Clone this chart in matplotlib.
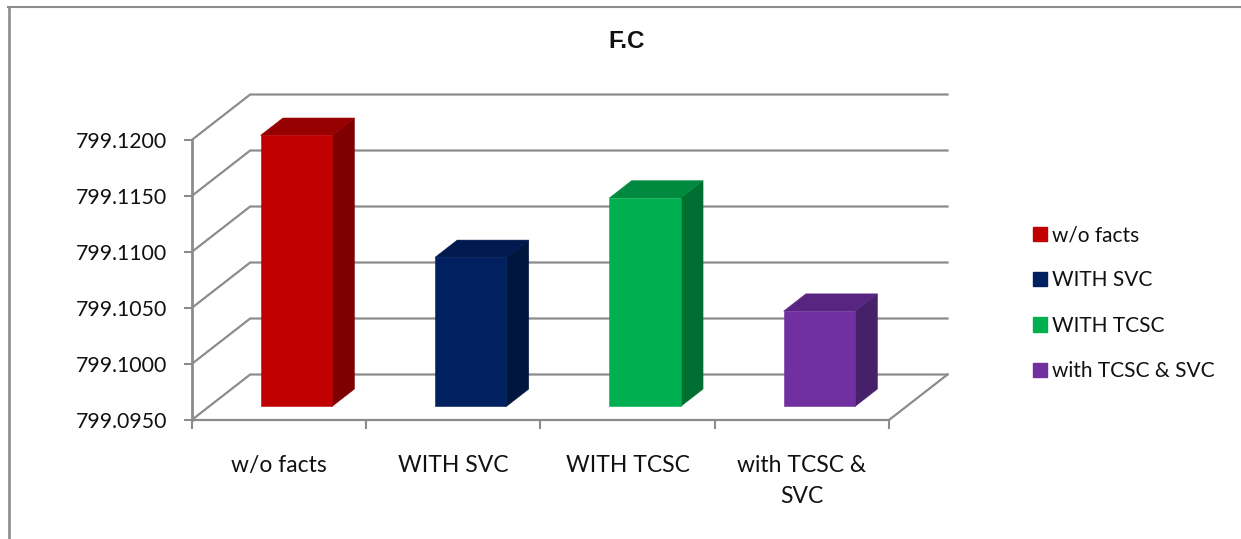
import matplotlib
matplotlib.use("Agg")
import matplotlib.pyplot as plt
from matplotlib.lines import Line2D
from matplotlib.patches import Patch, Polygon

plt.rcParams["font.family"] = ["Lato", "DejaVu Sans"]

categories = ["w/o facts", "WITH SVC", "WITH TCSC", "with TCSC &\nSVC"]
legend_labels = ["w/o facts", "WITH SVC", "WITH TCSC", "with TCSC & SVC"]
values = [799.1192, 799.1083, 799.1136, 799.1035]
y_ticks = [799.095, 799.100, 799.105, 799.110, 799.115, 799.120]

front_colors = ["#C00000", "#002060", "#00B050", "#7030A0"]
top_colors = ["#960000", "#001A4F", "#008A3F", "#582680"]
side_colors = ["#7F0000", "#00163F", "#006F32", "#47206A"]

GRID = "#8C8C8C"
WIDTH, HEIGHT = 1241, 539

# front plane of the box, in pixels
LEFT, RIGHT, FLOOR, TOP = 191.7, 889.0, 420.0, 140.0
# shift of the back wall relative to the front plane, in pixels
DEPTH_X, DEPTH_Y = 58.5, 45.5
BAR_WIDTH = 0.41
BAR_START, BAR_DEPTH = 0.30, 0.38

fig = plt.figure(figsize=(WIDTH / 100, HEIGHT / 100), dpi=100)
ax = fig.add_axes([LEFT / WIDTH, 1 - FLOOR / HEIGHT,
                   (RIGHT - LEFT) / WIDTH, (FLOOR - TOP) / HEIGHT])
ax.set_xlim(0, len(categories))
ax.set_ylim(y_ticks[0], y_ticks[-1])
ax.patch.set_visible(False)

# depth expressed in data units, so everything goes through transData
dx = DEPTH_X / ((RIGHT - LEFT) / len(categories))
dy = DEPTH_Y / ((FLOOR - TOP) / (y_ticks[-1] - y_ticks[0]))


def project(x, y, d):
    return (x + d * dx, y + d * dy)


# side wall and back wall grid lines
for t in y_ticks:
    xs, ys = zip(project(0, t, 0), project(0, t, 1), project(len(categories), t, 1))
    ax.plot(xs, ys, color=GRID, lw=1.6, clip_on=False, zorder=1, solid_joinstyle="miter")

# right edge of the floor
xs, ys = zip(project(len(categories), y_ticks[0], 0), project(len(categories), y_ticks[0], 1))
ax.plot(xs, ys, color=GRID, lw=1.6, clip_on=False, zorder=1)

# bars: front, top and side faces
for i, v in enumerate(values):
    x0 = i + 0.5 - BAR_WIDTH / 2
    x1 = i + 0.5 + BAR_WIDTH / 2
    y0 = y_ticks[0]
    d0 = BAR_START
    d1 = BAR_START + BAR_DEPTH
    faces = [
        ([(x1, y0, d0), (x1, y0, d1), (x1, v, d1), (x1, v, d0)], side_colors[i]),
        ([(x0, v, d0), (x1, v, d0), (x1, v, d1), (x0, v, d1)], top_colors[i]),
        ([(x0, y0, d0), (x1, y0, d0), (x1, v, d0), (x0, v, d0)], front_colors[i]),
    ]
    for corners, color in faces:
        ax.add_patch(Polygon([project(*c) for c in corners], closed=True,
                             facecolor=color, edgecolor=color, lw=0.4,
                             clip_on=False, zorder=3))

for s in ["top", "right"]:
    ax.spines[s].set_visible(False)
for s in ["left", "bottom"]:
    ax.spines[s].set_color(GRID)
    ax.spines[s].set_zorder(2)
ax.spines["left"].set_linewidth(2.0)
ax.spines["bottom"].set_linewidth(1.6)

ax.set_yticks(y_ticks)
ax.set_yticklabels(["%.4f" % t for t in y_ticks])
ax.tick_params(axis="y", length=5.5, width=1.5, color=GRID, pad=12, labelsize=15.3, labelcolor="#111111")
for label in ax.get_yticklabels():
    label.set_verticalalignment("center_baseline")
ax.set_xticks(range(len(categories) + 1))
ax.set_xticklabels([])
ax.tick_params(axis="x", length=6.5, width=1.5, color=GRID)
ax.set_xticks([i + 0.5 for i in range(len(categories))], minor=True)
ax.set_xticklabels(categories, minor=True, fontsize=16.5, color="#111111", linespacing=1.6)
ax.tick_params(axis="x", which="minor", length=0, pad=25)

fig.text(626.5 / WIDTH, 1 - 41.5 / HEIGHT, "F.C", ha="center", va="center",
         family="Liberation Sans", fontweight="bold", fontsize=17.5, color="#111111")

handles = [Patch(facecolor=c, edgecolor=c) for c in front_colors]
fig.legend(handles, legend_labels, loc="upper left",
           bbox_to_anchor=(1033 / WIDTH, 1 - 225 / HEIGHT), frameon=False,
           fontsize=15, handlelength=0.67, handleheight=0.67, handletextpad=0.24,
           labelspacing=1.22, borderpad=0, borderaxespad=0, labelcolor="#111111")

# chart area border, only the left and top edges fall inside the image
fig.add_artist(Line2D([8.5 / WIDTH, 8.5 / WIDTH], [0, 1 - 7 / HEIGHT], color=GRID, lw=1.9))
fig.add_artist(Line2D([7.5 / WIDTH, 1], [1 - 7 / HEIGHT, 1 - 7 / HEIGHT], color=GRID, lw=1.5))

fig.savefig("out.png", dpi=100)
